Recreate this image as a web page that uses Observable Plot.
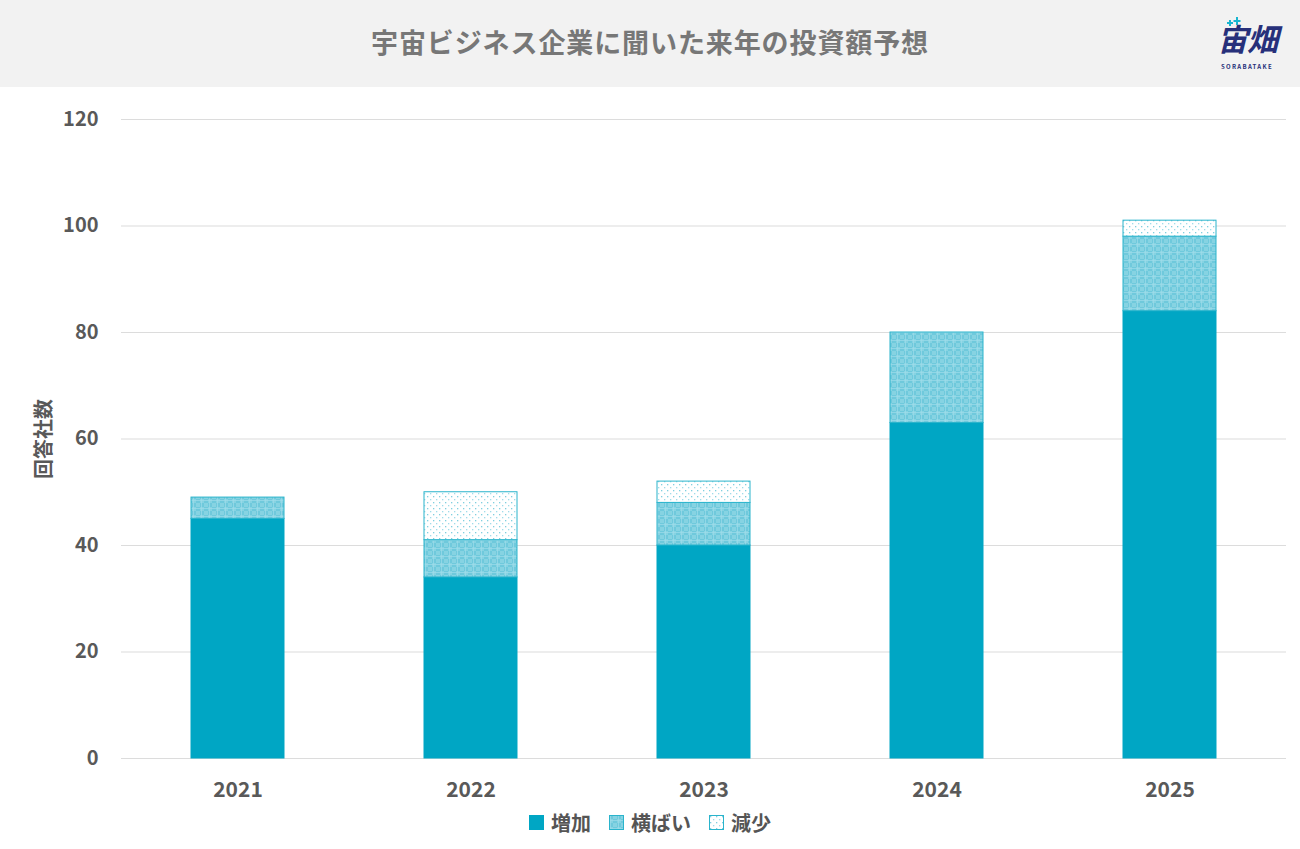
<!DOCTYPE html>
<html><head><meta charset="utf-8">
<script src="https://cdn.jsdelivr.net/npm/d3@7"></script>
<script src="https://cdn.jsdelivr.net/npm/@observablehq/plot@0.6"></script>
<style>
body{margin:0;background:#fff;font-family:"Noto Sans CJK JP","Noto Sans",sans-serif;width:1300px;overflow:hidden}
#hdr{height:87px;background:#f2f2f2;position:relative}
#title{position:absolute;left:0;right:0;top:22px;text-align:center;font-size:27px;line-height:40px;font-weight:700;color:#777;letter-spacing:0.9px}
#logo{position:absolute;left:1206px;top:0;width:82px;height:87px;color:#27307a}
#logo .k{position:absolute;left:0;width:82px;top:15px;text-align:center;font-size:31px;font-style:italic;font-weight:700;line-height:45px;letter-spacing:-1px}
#logo .s{position:absolute;left:0;width:82px;top:62px;text-align:center;font-size:6px;font-weight:700;letter-spacing:1.3px;line-height:9px}
#logo svg{position:absolute;left:20px;top:17px}
#legend{display:flex;justify-content:center;gap:18px;margin-top:-2px;font-size:20px;font-weight:700;color:#555}
#legend span{display:flex;align-items:center;gap:7px}
#legend svg{width:15px;height:15px}
</style></head>
<body>
<div id="hdr"><div id="title">宇宙ビジネス企業に聞いた来年の投資額予想</div>
<div id="logo"><div class="k">宙畑</div><div class="s">SORABATAKE</div>
<svg width="16" height="12" viewBox="0 0 16 12"><path d="M4 3v6M1 6h6M11 0v8M7.5 4h7" stroke="#19b5d0" stroke-width="2"/></svg></div></div>
<div id="chart"></div>
<div id="legend"></div>
<script>
const years = ["2021","2022","2023","2024","2025"];
const increase = [45, 34, 40, 63, 84];
const flat = [4, 7, 8, 17, 14];
const decrease = [0, 9, 4, 0, 3];
const types = ["増加","横ばい","減少"];
const yTicks = [0,20,40,60,80,100,120];

const fills = ["#00a6c4","url(#pFlat)","url(#pDown)"];
const series = [increase, flat, decrease];
const data = [];
types.forEach((t,i)=>years.forEach((y,j)=>data.push({year:y,type:t,value:series[i][j]})));

const defs = `
<pattern id="pFlat" width="8" height="8" patternUnits="userSpaceOnUse">
 <rect width="8" height="8" fill="#86d3e2"/>
 <rect x="0" y="0" width="4" height="4" fill="#6fc9dc"/>
 <rect x="4" y="4" width="4" height="4" fill="#6fc9dc"/>
 <rect x="1" y="0" width="1" height="8" fill="#9edcea" opacity="0.7"/>
 <rect x="0" y="5" width="8" height="1" fill="#9edcea" opacity="0.7"/>
</pattern>
<pattern id="pDown" width="6" height="6" patternUnits="userSpaceOnUse">
 <rect width="6" height="6" fill="#ffffff"/>
 <rect x="1" y="1" width="1.3" height="1.3" fill="#7fd0e0"/>
 <rect x="4" y="4" width="1.3" height="1.3" fill="#9fdcea"/>
</pattern>`;

const chart = Plot.plot({
  width: 1300,
  height: 723,
  marginTop: 32,
  marginBottom: 52,
  marginLeft: 121,
  marginRight: 14,
  style: {fontFamily: '"Noto Sans CJK JP","Noto Sans",sans-serif', fontSize: "20px", fontWeight: 700, color: "#595959"},
  x: {domain: years, paddingInner: 0.6, paddingOuter: 0.3, label: null},
  y: {domain: [0,120], ticks: yTicks, label: "回答社数"},
  color: {domain: types, range: fills},
  marks: [
    Plot.ruleY(yTicks, {stroke: "#dcdcdc", strokeWidth: 1.2}),
    Plot.axisX({tickSize: 0, tickPadding: 24, fontSize: 21, fontWeight: 700, label: null}),
    Plot.axisY({ticks: yTicks, tickSize: 0, tickPadding: 23, fontSize: 20, label: "回答社数", labelAnchor: "center", labelOffset: 85, labelArrow: false}),
    Plot.barY(data.filter(d=>d.value>0), {x: "year", y: "value", fill: "type", order: types,
      stroke: d => d.type === "増加" ? "#00a6c4" : "#2ab4cc", strokeWidth: 1})
  ]
});
d3.select(chart).insert("defs", ":first-child").html(defs);
document.getElementById("chart").appendChild(chart);

const lg = document.getElementById("legend");
types.forEach((t,i)=>{
  const s = document.createElement("span");
  s.innerHTML = `<svg viewBox="0 0 15 15"><defs>${defs.replace(/id="p/g,'id="l'+i+'p')}</defs><rect x="0.5" y="0.5" width="14" height="14" fill="${fills[i].replace('url(#p','url(#l'+i+'p')}" stroke="${i?'#2ab4cc':'#00a6c4'}"/></svg>${t}`;
  lg.appendChild(s);
});
</script>
</body></html>
